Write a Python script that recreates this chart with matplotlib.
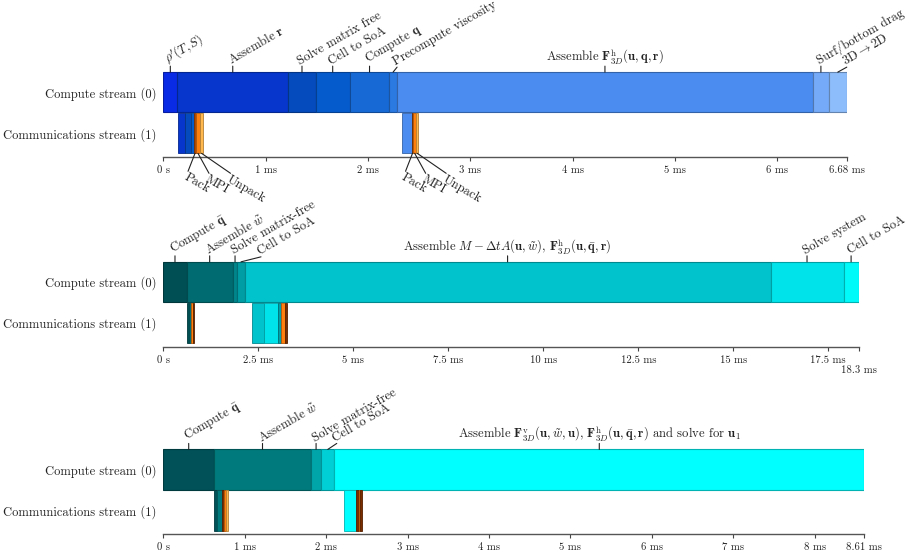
import matplotlib
matplotlib.use("Agg")
import matplotlib.pyplot as plt
import matplotlib.colors as mcolors

plt.rcParams['font.family'] = 'serif'
plt.rcParams['font.serif'] = ['cmr10']
plt.rcParams['mathtext.fontset'] = 'cm'
plt.rcParams['axes.formatter.use_mathtext'] = True
plt.rcParams['font.size'] = 9

W, H = 914, 557
TXT = '#222222'
LABEL_FS = 9.1
HLABEL_FS = 9.1
TICK_FS = 7.7

# ---------------- data (ms) ----------------
# panel 1
p1_edges = [0, 0.137, 1.22, 1.49, 1.82, 2.21, 2.28, 6.35, 6.50, 6.68]
p1_colors = ['#0a2be6', '#0636cc', '#064bbd', '#065bcc', '#176ad6',
             '#2a7ae2', '#4a8cf0', '#75aaf8', '#8dbdfa']
p1_labels = [r"$\rho'(T,S)$", r"Assemble $\mathbf{r}$", "Solve matrix free",
             "Cell to SoA", r"Compute $\mathbf{q}$", "Precompute viscosity",
             r"Assemble $\mathbf{F}^{\mathrm{h}}_{3D}(\mathbf{u},\mathbf{q},\mathbf{r})$",
             "Surf/bottom drag", r"3D$\to$2D"]
p1_comm_edges = [[0.140, 0.208, 0.269, 0.298, 0.322, 0.356, 0.391],
                 [2.337, 2.429, 2.441, 2.471, 2.490]]
p1_comm_colors = [['#0636cc', '#064bbd', '#065bcc', '#b34700', '#ff7f0e', '#ffb84d'],
                  ['#4a8cf0', '#9a3c00', '#ff7f0e', '#ffb84d']]
p1_comm_labels = ['Pack', 'MPI', 'Unpack']
p1_ticks = [0, 1, 2, 3, 4, 5, 6, 6.68]
p1_ticklabels = ['0 s', '1 ms', '2 ms', '3 ms', '4 ms', '5 ms', '6 ms', '6.68 ms']

# panel 2
p2_edges = [0, 0.615, 1.826, 1.95, 2.14, 15.98, 17.9, 18.3]
p2_colors = ['#004f55', '#006b70', '#00858c', '#009da5', '#00c3cb', '#00e3ea', '#00fafa']
p2_labels = [r"Compute $\bar{\mathbf{q}}$", r"Assemble $\tilde{w}$", "Solve matrix-free",
             "Cell to SoA",
             r"Assemble $M - \Delta t A(\mathbf{u},\tilde{w})$, "
             r"$\mathbf{F}^{\mathrm{h}}_{3D}(\mathbf{u},\bar{\mathbf{q}},\mathbf{r})$",
             "Solve system", "Cell to SoA"]
p2_comm_edges = [[0.632, 0.689, 0.742, 0.774, 0.808],
                 [2.342, 2.642, 3.026, 3.097, 3.203, 3.247]]
p2_comm_colors = [['#004f55', '#006b70', '#ff7f0e', '#7a2e00'],
                  ['#00c3cb', '#00e3ea', '#00a0a8', '#ff7f0e', '#7a2e00']]
p2_ticks = [0, 2.5, 5, 7.5, 10, 12.5, 15, 17.5, 18.3]
p2_ticklabels = ['0 s', '2.5 ms', '5 ms', '7.5 ms', '10 ms', '12.5 ms', '15 ms',
                 '17.5 ms', '18.3 ms']

# panel 3
p3_edges = [0, 0.624, 1.813, 1.94, 2.10, 8.61]
p3_colors = ['#005158', '#007a7c', '#00a5aa', '#00d0d6', '#00ffff']
p3_labels = [r"Compute $\bar{\mathbf{q}}$", r"Assemble $\tilde{w}$", "Solve matrix-free",
             "Cell to SoA",
             r"Assemble $\mathbf{F}^{\mathrm{v}}_{3D}(\mathbf{u},\tilde{w},\mathbf{u})$, "
             r"$\mathbf{F}^{\mathrm{h}}_{3D}(\mathbf{u},\bar{\mathbf{q}},\mathbf{r})$"
             r" and solve for $\mathbf{u}_1$"]
p3_comm_edges = [[0.624, 0.661, 0.718, 0.743, 0.771, 0.792],
                 [2.214, 2.370, 2.398, 2.419, 2.440]]
p3_comm_colors = [['#005158', '#007a7c', '#7a2e00', '#ff7f0e', '#ffb84d'],
                  ['#00ffff', '#7a2e00', '#ff7f0e', '#7a2e00']]
p3_ticks = [0, 1, 2, 3, 4, 5, 6, 7, 8, 8.61]
p3_ticklabels = ['0 s', '1 ms', '2 ms', '3 ms', '4 ms', '5 ms', '6 ms', '7 ms',
                 '8 ms', '8.61 ms']

# ---------------- layout (pixels) ----------------
# label offsets (dx, dy) in pixels and rotation; None rotation -> horizontal
p1_offsets = [(0, 6, 30), (0, 6, 30), (0, 6, 30), (0, 6, 30), (0, 6, 30),
              (4, 5, 30), (0, 6, None), (0, 6, 30), (9, 5, 30)]
p2_offsets = [(0, 6, 30), (0, 6, 30), (0, 6, 30), (20, 5, 30), (0, 6, None),
              (0, 6, 30), (0, 6, 30)]
p3_offsets = [(0, 6, 30), (0, 6, 30), (0, 6, 30), (9, 6, 30), (0, 6, None)]
comm_label_offsets = [(-7, -18), (11, -20), (29, -20)]

UNIT = 41.0
Y0, Y1 = -0.58, 1.52
X_LEFT = 163.3


def darker(c, f=0.7):
    r, g, b = mcolors.to_rgb(c)
    return (r * f, g * f, b * f)


fig = plt.figure(figsize=(W / 100, H / 100), dpi=100)


def panel(axis_px, right_px, edges, colors, labels, offsets,
          comm_edges, comm_colors, ticks, ticklabels, comm_labels=None,
          low_last_tick=False):
    axh = (Y1 - Y0) * UNIT
    ax = fig.add_axes([X_LEFT / W, (H - axis_px) / H, (right_px - X_LEFT) / W, axh / H])
    top = 0.49
    line_kw = dict(arrowstyle='-', lw=0.8, color=TXT, shrinkA=0, shrinkB=0)
    for i in range(len(colors)):
        ax.barh(1, edges[i + 1] - edges[i], left=edges[i], height=0.98,
                color=colors[i], edgecolor=darker(colors[i]), lw=0.8)
    for grp_e, grp_c in zip(comm_edges, comm_colors):
        for i in range(len(grp_c)):
            ax.barh(0, grp_e[i + 1] - grp_e[i], left=grp_e[i], height=0.98,
                    color=grp_c[i], edgecolor=darker(grp_c[i]), lw=0.6)
        if comm_labels:
            n = len(comm_labels)
            for k, lab in enumerate(comm_labels):
                j = len(grp_c) - n + k
                xm = 0.5 * (grp_e[j] + grp_e[j + 1])
                dx, dy = comm_label_offsets[k]
                ax.annotate('', xy=(xm, -top), xytext=(dx, dy), textcoords='offset pixels',
                            arrowprops=line_kw, annotation_clip=False)
                ax.annotate(lab, xy=(xm, -top), xytext=(dx, dy), textcoords='offset pixels',
                            rotation=-30, rotation_mode='anchor', ha='left', va='top',
                            color=TXT, fontsize=LABEL_FS, annotation_clip=False)
    for i, lab in enumerate(labels):
        xm = 0.5 * (edges[i] + edges[i + 1])
        dx, dy, rot = offsets[i]
        ax.annotate('', xy=(xm, 1 + top), xytext=(dx, dy), textcoords='offset pixels',
                    arrowprops=line_kw, annotation_clip=False)
        if rot is None:
            ax.annotate(lab, xy=(xm, 1 + top), xytext=(dx, dy), textcoords='offset pixels',
                        ha='center', va='bottom', color=TXT, fontsize=HLABEL_FS,
                        annotation_clip=False)
        else:
            ax.annotate(lab, xy=(xm, 1 + top), xytext=(dx, dy - 1), textcoords='offset pixels',
                        rotation=rot, rotation_mode='anchor', ha='left', va='bottom',
                        color=TXT, fontsize=LABEL_FS, annotation_clip=False)
    ax.set_xlim(0, edges[-1])
    ax.set_ylim(Y0, Y1)
    ax.set_yticks([1, 0])
    ax.set_yticklabels(['Compute stream (0)', 'Communications stream (1)'], color=TXT)
    ax.tick_params(axis='y', length=0, pad=5)
    ax.set_xticks(ticks)
    shown = list(ticklabels)
    if low_last_tick:
        shown[-1] = ''
        ax.annotate(ticklabels[-1], xy=(ticks[-1], Y0), xytext=(0, -19),
                    textcoords='offset pixels', ha='center', va='top',
                    color=TXT, fontsize=TICK_FS, annotation_clip=False)
    ax.set_xticklabels(shown, color=TXT, fontsize=TICK_FS)
    ax.tick_params(axis='x', length=3, width=0.8, color='#444444', pad=3)
    for s in ['left', 'top', 'right']:
        ax.spines[s].set_visible(False)
    ax.spines['bottom'].set_color('#555555')
    ax.spines['bottom'].set_linewidth(1.0)
    return ax


panel(157, 847, p1_edges, p1_colors, p1_labels, p1_offsets,
      p1_comm_edges, p1_comm_colors, p1_ticks, p1_ticklabels, p1_comm_labels)
panel(346.7, 858.7, p2_edges, p2_colors, p2_labels, p2_offsets,
      p2_comm_edges, p2_comm_colors, p2_ticks, p2_ticklabels, low_last_tick=True)
panel(534.3, 864.3, p3_edges, p3_colors, p3_labels, p3_offsets,
      p3_comm_edges, p3_comm_colors, p3_ticks, p3_ticklabels)

fig.savefig('out.png', dpi=100)
